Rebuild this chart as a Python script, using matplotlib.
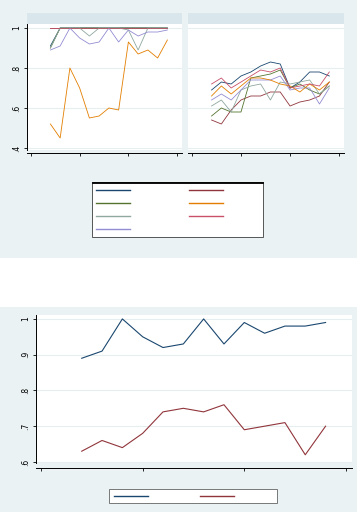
import matplotlib
matplotlib.use("Agg")
import matplotlib.pyplot as plt
from matplotlib.patches import Rectangle
from matplotlib.lines import Line2D

# data
years = [1997, 1998, 1999, 2000, 2001, 2002, 2003, 2004, 2005, 2006, 2007, 2008, 2009]
xticks = [1995, 2000, 2005, 2010]

# top graph, left panel
navy_l = [0.91, 1, 1, 1, 1, 1, 1, 1, 1, 1, 1, 1, 1]
maroon_l = [1, 1, 1, 1, 1, 1, 1, 1, 1, 1, 1, 1, 1]
green_l = [0.90, 1, 1, 1, 1, 1, 1, 1, 1, 1, 1, 1, 1]
orange_l = [0.52, 0.45, 0.80, 0.70, 0.55, 0.56, 0.60, 0.59, 0.93, 0.87, 0.89, 0.85, 0.94]
teal_l = [0.90, 1, 1, 1, 0.96, 1, 1, 1, 0.99, 0.89, 1, 1, 1]
cranb_l = [1, 1, 1, 1, 1, 1, 1, 1, 1, 1, 1, 1, 1]
laven_l = [0.89, 0.91, 1, 0.95, 0.92, 0.93, 1, 0.93, 0.99, 0.96, 0.98, 0.98, 0.99]

# top graph, right panel
navy_r = [0.69, 0.73, 0.72, 0.76, 0.78, 0.81, 0.83, 0.82, 0.70, 0.73, 0.78, 0.78, 0.76]
maroon_r = [0.54, 0.52, 0.59, 0.64, 0.66, 0.66, 0.68, 0.68, 0.61, 0.63, 0.64, 0.66, 0.73]
green_r = [0.56, 0.60, 0.58, 0.58, 0.75, 0.76, 0.77, 0.79, 0.70, 0.72, 0.69, 0.67, 0.71]
orange_r = [0.66, 0.71, 0.67, 0.71, 0.75, 0.75, 0.74, 0.72, 0.71, 0.68, 0.72, 0.69, 0.73]
teal_r = [0.61, 0.64, 0.58, 0.69, 0.71, 0.72, 0.64, 0.73, 0.72, 0.73, 0.74, 0.67, 0.71]
cranb_r = [0.72, 0.75, 0.70, 0.73, 0.76, 0.79, 0.78, 0.80, 0.70, 0.71, 0.72, 0.71, 0.78]
laven_r = [0.64, 0.67, 0.64, 0.69, 0.74, 0.74, 0.74, 0.76, 0.69, 0.70, 0.70, 0.62, 0.70]

top_ticks = [1, 0.8, 0.6, 0.4]
top_labels = ["1", ".8", ".6", ".4"]

# bottom graph
blue_b = [0.89, 0.91, 1.0, 0.95, 0.92, 0.93, 1.0, 0.93, 0.99, 0.96, 0.98, 0.98, 0.99]
red_b = [0.63, 0.66, 0.64, 0.68, 0.74, 0.75, 0.74, 0.76, 0.69, 0.70, 0.71, 0.62, 0.70]
bot_ticks = [1, 0.9, 0.8, 0.7, 0.6]
bot_labels = ["1", ".9", ".8", ".7", ".6"]

# stata s2color
navy, maroon, green, orange = "#1a476f", "#90353b", "#55752f", "#e37e00"
teal, cranb, laven = "#8fa8a0", "#c8506a", "#938dd2"
bg, strip, grid = "#eaf2f3", "#d9e6eb", "#e6eef0"

W, H = 360, 512
fig = plt.figure(figsize=(W / 100, H / 100), dpi=100)
fig.patch.set_facecolor("white")


def box(x0, y0, x1, y1):
    # pixel box -> figure fraction rect
    return [x0 / W, 1 - y1 / H, (x1 - x0) / W, (y1 - y0) / H]


def rect(x0, y0, x1, y1, **kw):
    l, b, w, h = box(x0, y0, x1, y1)
    fig.add_artist(Rectangle((l, b), w, h, transform=fig.transFigure, **kw))


rect(0, 0, 357, 258, facecolor=bg, edgecolor="none", zorder=0)
rect(0, 307, 357, 512, facecolor=bg, edgecolor="none", zorder=0)


def style(ax, ticks, labels, ylim, xlim, show_y=True):
    ax.set_facecolor("white")
    ax.set_xlim(*xlim)
    ax.set_ylim(*ylim)
    for s in ["top", "right"]:
        ax.spines[s].set_visible(False)
    ax.spines["bottom"].set_position(("outward", 2.5))
    ax.spines["bottom"].set_linewidth(0.7)
    ax.spines["left"].set_linewidth(0.7)
    ax.set_xticks(xticks)
    ax.set_xticklabels([])
    ax.tick_params(axis="x", length=2.5, width=0.6, direction="out")
    ax.set_yticks(ticks)
    ax.yaxis.grid(True, color=grid, lw=0.8)
    ax.set_axisbelow(True)
    if show_y:
        ax.set_yticklabels(labels, rotation=90, va="center", fontsize=5.5)
        ax.tick_params(axis="y", length=2.5, width=0.6, pad=2)
    else:
        ax.spines["left"].set_visible(False)
        ax.tick_params(axis="y", length=0, labelleft=False)


# top graph panels
panels = [
    ((27, 24, 182, 150), [navy_l, maroon_l, green_l, orange_l, teal_l, cranb_l, laven_l], True),
    ((188, 24, 344, 150), [navy_r, maroon_r, green_r, orange_r, teal_r, cranb_r, laven_r], False),
]
colors = [navy, maroon, green, orange, teal, cranb, laven]
order = [0, 1, 2, 4, 6, 3, 5]
for (x0, y0, x1, y1), series, show in panels:
    rect(x0, 13, x1, 24, facecolor=strip, edgecolor="none", zorder=1)
    ax = fig.add_axes(box(x0, y0, x1, y1))
    style(ax, top_ticks, top_labels, (0.39, 1.02), (1994.6, 2010.5), show)
    for i in order:
        lw = 0.45 if (show and i == 5) else 0.6
        ax.plot(years, series[i], color=colors[i], lw=lw)

# stata fills the legend row by row, matplotlib column by column
handles = [Line2D([], [], color=colors[i], lw=1.0) for i in [0, 2, 4, 6, 1, 3, 5]]
rect(92, 182, 263, 237, facecolor="white", edgecolor="#555555", lw=0.7, zorder=1)
rect(92, 182, 263, 182.6, facecolor="black", edgecolor="black", lw=0.6, zorder=2)
fig.legend(handles, [""] * 7, ncol=2, loc="upper left",
           bbox_to_anchor=(89 / W, 1 - 179 / H), frameon=False, fontsize=6,
           handlelength=4.1, handletextpad=0, columnspacing=7.05,
           labelspacing=0.47, borderpad=0.3)

# bottom graph
ax2 = fig.add_axes(box(36, 315, 352, 463))
style(ax2, bot_ticks, bot_labels, (0.597, 1.011), (1994.75, 2010.3))
ax2.spines["bottom"].set_position(("outward", 3.5))
ax2.plot(years, blue_b, color=navy, lw=0.8)
ax2.plot(years, red_b, color=maroon, lw=0.8)

rect(109, 489, 277, 503, facecolor="white", edgecolor="#777777", lw=0.7, zorder=1)
fig.legend([Line2D([], [], color=navy, lw=1.0), Line2D([], [], color=maroon, lw=1.0)],
           ["", ""], ncol=2, loc="center left",
           bbox_to_anchor=(108 / W, 1 - 496 / H), frameon=False, fontsize=6,
           handlelength=4.1, handletextpad=0, columnspacing=6.2, borderpad=0.2)

fig.savefig("out.png", dpi=100)
